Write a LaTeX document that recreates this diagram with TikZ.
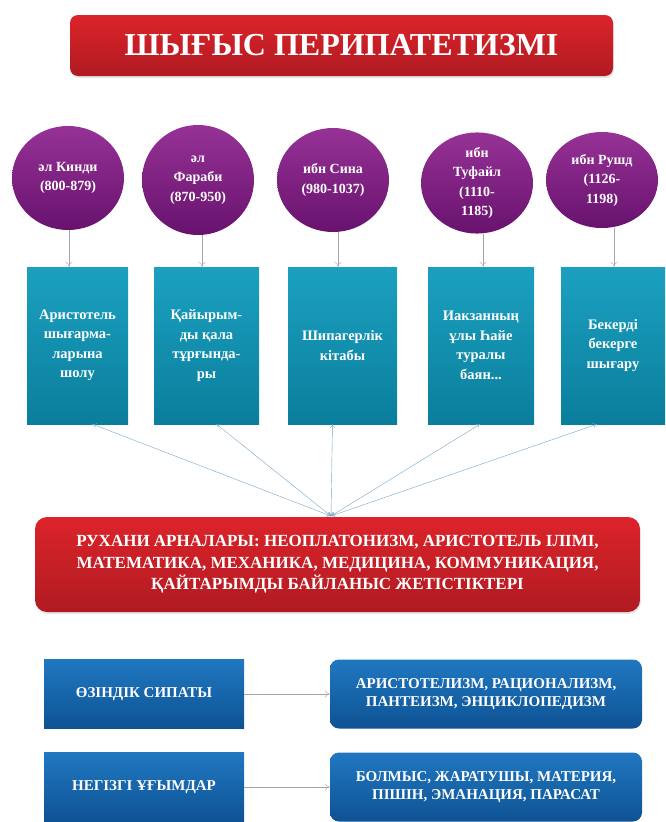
\documentclass[tikz,border=0pt]{standalone}
\usepackage{fontspec}
\setmainfont{Liberation Serif}
\usetikzlibrary{arrows.meta,shapes.geometric,shadows}
\definecolor{titleRed}{RGB}{220,36,42}
\definecolor{titleRedDark}{RGB}{176,26,34}
\definecolor{thinkerPurple}{RGB}{150,50,150}
\definecolor{thinkerPurpleDark}{RGB}{104,18,110}
\definecolor{workTeal}{RGB}{28,160,192}
\definecolor{workTealDark}{RGB}{10,126,156}
\definecolor{traitBlue}{RGB}{32,120,192}
\definecolor{traitBlueDark}{RGB}{14,82,148}
\definecolor{linkBlue}{RGB}{120,165,198}
\definecolor{linkGray}{RGB}{165,165,165}
\tikzset{banner/.style={rounded corners=8pt, top color=titleRed, bottom color=titleRedDark, text=white, align=center, inner sep=0pt, drop shadow={opacity=0.2, shadow xshift=1pt, shadow yshift=-2pt}}}
\tikzset{thinker/.style={ellipse, top color=thinkerPurple, bottom color=thinkerPurpleDark, text=white, font=\bfseries\fontsize{14}{19.5}\selectfont, align=center, minimum width=112pt, minimum height=104pt, inner sep=0pt}}
\tikzset{work/.style={rectangle, top color=workTeal, bottom color=workTealDark, text=white, font=\bfseries\fontsize{14.5}{19.5}\selectfont, align=center, minimum height=157pt, inner sep=0pt}}
\tikzset{trait/.style={rectangle, top color=traitBlue, bottom color=traitBlueDark, text=white, font=\bfseries\fontsize{15}{18}\selectfont, align=center, minimum width=200pt, minimum height=69pt, inner sep=0pt}}
\tikzset{traitvalue/.style={trait, rounded corners=9pt, minimum width=312pt}}
\tikzstyle{link} = [{To[length=4pt,width=5pt]}-{To[length=4pt,width=5pt]}, draw=linkBlue, thin]
\tikzstyle{arrow} = [-{To[length=5pt,width=7pt]}, draw=linkGray, thin]
\begin{document}
\begin{tikzpicture}[x=1pt, y=-1pt]
	\useasboundingbox (0,0) rectangle (665,822);
	% Nodes
	\node (title) [banner, minimum width=543pt, minimum height=61pt, font=\bfseries\fontsize{32}{38}\selectfont] at (341.5,45.5) {ШЫҒЫС ПЕРИПАТЕТИЗМІ};

	\node (c1) [thinker] at (68,178) {әл Кинди\\(800-879)};
	\node (c2) [thinker, minimum height=110pt] at (198,180) {әл\\Фараби\\(870-950)};
	\node (c3) [thinker] at (333,180) {ибн Сина\\(980-1037)};
	\node (c4) [thinker, minimum height=100pt] at (477,183) {ибн\\Туфайл\\(1110-\\1185)};
	\node (c5) [thinker, minimum height=96pt] at (602,180) {ибн Рушд\\(1126-\\1198)};

	\node (b1) [work, minimum width=101pt] at (77.5,345.5) {Аристотель\\шығарма-\\ларына\\шолу};
	\node (b2) [work, minimum width=105pt] at (206.5,345.5) {Қайырым-\\ды қала\\тұрғында-\\ры};
	\node (b3) [work, minimum width=109pt] at (342.5,345.5) {Шипагерлік\\кітабы};
	\node (b4) [work, minimum width=106pt] at (481,345.5) {Иакзанның\\ұлы Һайе\\туралы\\баян...};
	\node (b5) [work, minimum width=104pt] at (613,345.5) {Бекерді\\бекерге\\шығару};

	\node (sources) [banner, minimum width=605pt, minimum height=95pt, rounded corners=12pt, font=\bfseries\fontsize{17}{21.5}\selectfont] at (337.5,564.5) {РУХАНИ АРНАЛАРЫ: НЕОПЛАТОНИЗМ, АРИСТОТЕЛЬ ІЛІМІ,\\МАТЕМАТИКА, МЕХАНИКА, МЕДИЦИНА, КОММУНИКАЦИЯ,\\ҚАЙТАРЫМДЫ БАЙЛАНЫС ЖЕТІСТІКТЕРІ};
	\coordinate (hub) at (331,516);

	\node (trait) [trait] at (144,694) {ӨЗІНДІК СИПАТЫ};
	\node (traitval) [traitvalue] at (486,694) {АРИСТОТЕЛИЗМ, РАЦИОНАЛИЗМ,\\ПАНТЕИЗМ, ЭНЦИКЛОПЕДИЗМ};
	\node (concept) [trait] at (144,787) {НЕГІЗГІ ҰҒЫМДАР};
	\node (conceptval) [traitvalue] at (486,787) {БОЛМЫС, ЖАРАТУШЫ, МАТЕРИЯ,\\ПІШІН, ЭМАНАЦИЯ, ПАРАСАТ};

	% Connectors
	\foreach \i/\dx in {1/1,2/4,3/5,4/6,5/12}
		\draw [arrow] ([xshift=\dx pt]c\i.south) -- ([xshift=\dx pt]c\i.south |- b\i.north);

	\foreach \i/\dx in {1/15,2/10,3/-10,4/-1,5/-16}
		\draw [link] (hub) -- ([xshift=\dx pt]b\i.south);

	\draw [arrow] (trait) -- (traitval);
	\draw [arrow] (concept) -- (conceptval);
\end{tikzpicture}
\end{document}
